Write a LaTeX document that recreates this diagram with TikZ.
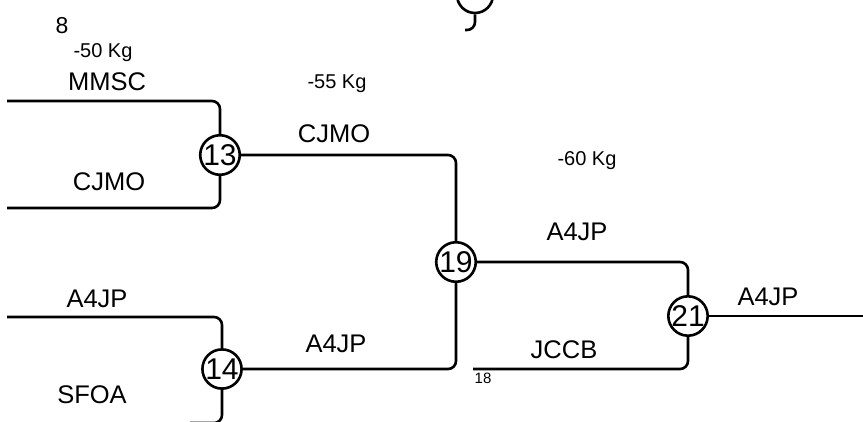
\documentclass[tikz,border=0pt]{standalone}
\usepackage{fontspec}
\setmainfont{Liberation Sans}
\usetikzlibrary{positioning}

\begin{document}
\begin{tikzpicture}[
    x=1pt, y=-1pt,
    wire/.style={line width=2.6pt, rounded corners=8pt},
    bout/.style={circle, draw, line width=2.6pt, minimum size=36pt, inner sep=0pt, font=\fontsize{30}{30}\selectfont},
    team/.style={anchor=base, inner sep=0pt, font=\fontsize{25.5}{30}\selectfont},
    weight/.style={anchor=base, inner sep=0pt, font=\fontsize{20}{24}\selectfont},
    tag/.style={anchor=base, inner sep=0pt, font=\fontsize{15}{18}\selectfont},
  ]
    \clip (0,0) rectangle (863,421);

    % bouts
    \node[bout] (b8) at (475,-5) {};
    \node[bout] (b13) at (220,155) {13};
    \node[bout] (b14) at (222,369) {14};
    \node[bout] (b19) at (456,262) {19};
    \node[bout] (b21) at (688,316) {21};

    % free ends
    \coordinate (in1) at (7,101);
    \coordinate (in2) at (7,208);
    \coordinate (in3) at (7,317);
    \coordinate (in4) at (190,423);
    \coordinate (in5) at (465,30);
    \coordinate (s18) at (473,369);
    \coordinate (out) at (863,316);

    % wires
    \draw[wire] (in1) -| (b13.north);
    \draw[wire] (in2) -| (b13.south);
    \draw[wire] (b13.east) -| (b19.north);
    \draw[wire] (in3) -| (b14.north);
    \draw[wire] (b14.south) |- (in4);
    \draw[wire] (b14.east) -| (b19.south);
    \draw[wire] (b19.east) -| (b21.north);
    \draw[wire] (s18) -| (b21.south);
    \draw[wire] (b21.east) -- (out);
    \draw[wire] (b8.south) |- (in5);

    % labels
    \node[team, font=\fontsize{23}{28}\selectfont] (t8) at (62,33) {8};
    \node[weight] (w50) at (103,57) {-50 Kg};
    \node[team] (t1) at (107,90) {MMSC};
    \node[team] (t2) at (109,190) {CJMO};
    \node[weight] (w55) at (337,88) {-55 Kg};
    \node[team] (t3) at (334,142) {CJMO};
    \node[weight] (w60) at (587,165) {-60 Kg};
    \node[team] (t4) at (577,240) {A4JP};
    \node[team] (t5) at (97,307) {A4JP};
    \node[team] (t6) at (92,403) {SFOA};
    \node[team] (t7) at (336,352) {A4JP};
    \node[team] (t8b) at (564,358) {JCCB};
    \node[team] (t9) at (768,305) {A4JP};
    \node[tag] (n18) at (483,383) {18};
\end{tikzpicture}
\end{document}
